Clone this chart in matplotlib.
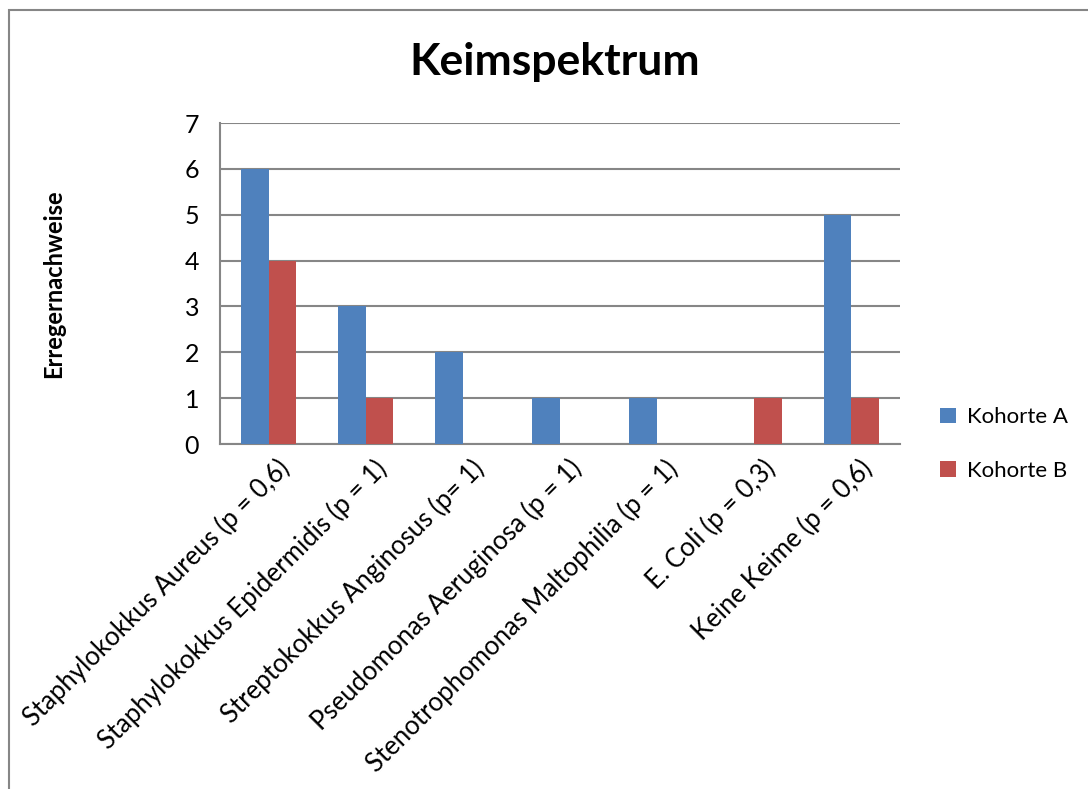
import matplotlib
matplotlib.use("Agg")
import matplotlib.pyplot as plt
from matplotlib.patches import Rectangle
import numpy as np

plt.rcParams['font.family'] = ['Lato', 'DejaVu Sans']

# data
keime = ["Staphylokokkus Aureus (p = 0,6)",
         "Staphylokokkus Epidermidis (p = 1)",
         "Streptokokkus Anginosus (p= 1)",
         "Pseudomonas Aeruginosa (p = 1)",
         "Stenotrophomonas Maltophilia (p = 1)",
         "E. Coli (p = 0,3)",
         "Keine Keime (p = 0,6)"]
kohorte_a = [6, 3, 2, 1, 1, 0, 5]
kohorte_b = [4, 1, 0, 0, 0, 1, 1]

blue = "#4F81BD"
red = "#C0504D"
grey = "#868686"

fig = plt.figure(figsize=(10.88, 7.89), dpi=100)
# outer chart frame
fig.patches.append(Rectangle((9/1088, -0.1), 1.2, 1 - 10/789 + 0.1,
                             transform=fig.transFigure, fill=False,
                             edgecolor=grey, linewidth=1.5))

ax = fig.add_axes([220/1088, 1 - 444/789, 680/1088, 321/789])

x = np.arange(len(keime))
w = 1 / 3.5
ax.bar(x - w/2, kohorte_a, w, color=blue, label="Kohorte A", zorder=3)
ax.bar(x + w/2, kohorte_b, w, color=red, label="Kohorte B", zorder=3)

ax.set_xlim(-0.5, len(keime) - 0.5)
ax.set_ylim(0, 7)
ax.set_yticks(range(8))
ax.yaxis.grid(True, color=grey, linewidth=1.5, zorder=0)
for s in ["top", "right"]:
    ax.spines[s].set_visible(False)
for s in ["left", "bottom"]:
    ax.spines[s].set_color(grey)
    ax.spines[s].set_linewidth(1.5)
ax.tick_params(axis='y', length=0, labelsize=18, pad=15)
ax.tick_params(axis='x', length=0, labelsize=18.5, pad=8)
ax.set_xticks(x + 0.08)
ax.set_xticklabels(keime, rotation=45, ha='right', va='top',
                   rotation_mode='anchor')

ax.set_ylabel("Erregernachweise", fontsize=17, fontweight='bold', labelpad=86)
fig.text(555/1088, 1 - 62/789, "Keimspektrum", fontsize=32,
         fontweight='bold', ha='center', va='center')

ax.legend(loc='center left', bbox_to_anchor=(1.03, 0.0), frameon=False,
          fontsize=16, handlelength=0.7, handleheight=0.7,
          handletextpad=0.5, labelspacing=1.5)

fig.savefig("out.png", dpi=100)
